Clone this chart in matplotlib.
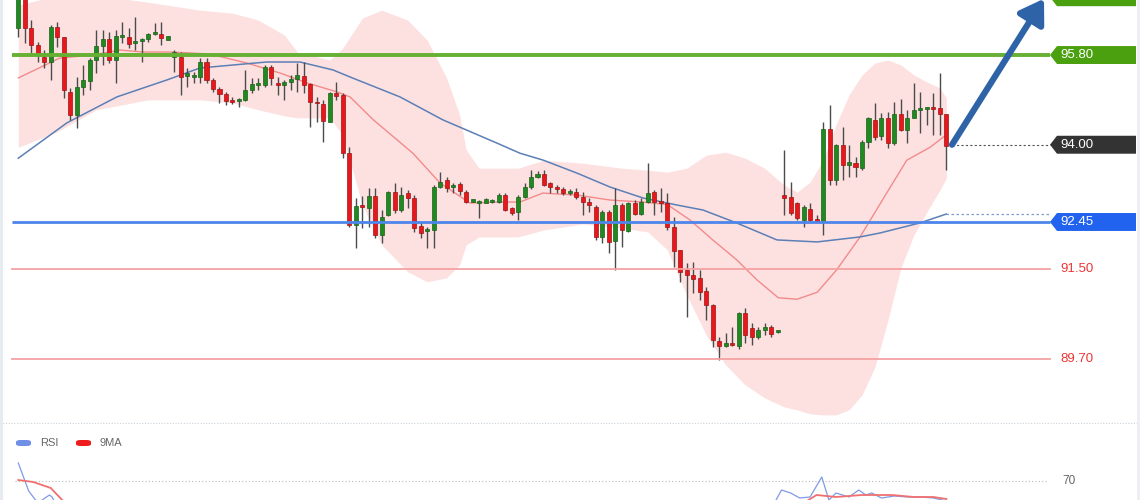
import matplotlib
matplotlib.use("Agg")
import matplotlib.pyplot as plt
from matplotlib.patches import Polygon, FancyBboxPatch
from matplotlib.lines import Line2D
import numpy as np

# candles (one per slot, oldest first)
opens = [96.34, 96.95, 96.34, 96.00, 95.76, 95.66, 96.36, 96.16, 95.05, 94.59,
         95.15, 95.28, 95.70, 95.98, 96.12, 95.70, 96.16, 96.16, 96.04, 96.08,
         96.12, 96.22, 96.22, 96.10, 95.76, 95.76, 95.38, 95.36, 95.36, 95.66,
         95.30, 95.12, 95.02, 94.90, 94.88, 94.90, 95.10, 95.20, 95.20, 95.56,
         95.24, 95.20, 95.26, 95.32, 95.38, 95.22, 94.86, 94.82, 94.45, 95.04,
         94.99, 93.83, 92.39, 92.80, 92.73, 92.97, 92.19, 92.59, 93.05, 92.69,
         93.03, 92.93, 92.37, 92.26, 92.29, 93.15, 93.29, 93.15, 93.21, 93.05,
         92.85, 92.83, 92.83, 92.85, 92.85, 92.99, 92.73, 92.65, 92.95, 93.15,
         93.35, 93.41, 93.23, 93.15, 93.11, 93.03, 93.05, 92.95, 92.85, 92.75,
         92.15, 92.65, 92.07, 92.79, 92.27, 92.83, 92.61, 92.85, 93.05, 92.85,
         92.83, 92.35, 91.88, 91.48, 91.38, 91.32, 91.06, 90.78, 90.06, 89.96,
         90.02, 89.96, 90.62, 90.32, 90.14, 90.28, 90.34, 90.24, 92.99, 92.95,
         92.83, 92.49, 92.71, 92.49, 92.45, 94.31, 93.29, 93.99, 93.59, 93.63,
         93.53, 94.05, 94.49, 94.17, 94.53, 94.03, 94.61, 94.29, 94.53, 94.70,
         94.72, 94.74, 94.74, 94.61]
highs = [97.00, 97.00, 96.50, 96.06, 95.90, 96.40, 96.46, 96.16, 95.13, 95.36,
         95.60, 95.74, 96.30, 96.30, 96.26, 96.30, 96.46, 96.34, 96.56, 96.14,
         96.24, 96.44, 96.46, 96.18, 95.90, 95.86, 95.54, 95.46, 95.74, 95.74,
         95.34, 95.16, 95.05, 94.95, 94.94, 95.50, 95.34, 95.34, 95.60, 95.60,
         95.36, 95.30, 95.40, 95.64, 95.66, 95.24, 94.95, 94.90, 95.06, 95.26,
         95.03, 93.95, 92.93, 92.97, 93.13, 93.13, 92.69, 93.07, 93.23, 93.15,
         93.09, 92.99, 92.45, 92.35, 93.19, 93.45, 93.35, 93.23, 93.25, 93.09,
         92.91, 92.89, 92.93, 92.91, 93.03, 93.03, 92.75, 92.99, 93.23, 93.49,
         93.47, 93.49, 93.25, 93.19, 93.15, 93.11, 93.13, 93.05, 92.93, 92.79,
         92.69, 92.69, 93.13, 92.83, 92.85, 92.89, 92.93, 93.63, 93.09, 93.13,
         93.03, 92.55, 91.88, 91.62, 91.64, 91.48, 91.14, 90.80, 90.14, 90.22,
         90.34, 90.64, 90.72, 90.42, 90.34, 90.42, 90.38, 90.28, 93.89, 93.25,
         92.85, 92.79, 92.83, 92.59, 94.45, 94.79, 94.01, 94.35, 93.99, 93.75,
         94.09, 94.55, 94.83, 94.63, 94.65, 94.85, 94.91, 94.69, 95.24, 95.06,
         94.76, 95.04, 95.44, 94.61]
lows = [96.16, 96.04, 95.84, 95.66, 95.54, 95.30, 95.96, 94.93, 94.49, 94.33,
        94.99, 95.10, 95.44, 95.60, 95.64, 95.24, 96.04, 95.94, 95.90, 95.66,
        96.06, 96.20, 96.00, 96.10, 95.46, 94.99, 95.15, 95.24, 95.24, 95.24,
        95.05, 94.84, 94.79, 94.81, 94.75, 94.88, 95.03, 95.10, 95.16, 95.20,
        95.00, 94.90, 95.10, 95.05, 95.03, 94.35, 94.45, 94.05, 94.45, 94.90,
        93.73, 92.35, 91.92, 92.33, 92.35, 92.13, 92.03, 92.57, 92.63, 92.65,
        92.73, 92.25, 92.13, 91.92, 91.92, 93.13, 93.05, 93.03, 92.99, 92.83,
        92.85, 92.53, 92.83, 92.83, 92.83, 92.67, 92.59, 92.49, 92.93, 93.11,
        93.33, 93.17, 93.03, 93.03, 92.99, 92.99, 92.91, 92.59, 92.65, 92.09,
        92.03, 91.83, 91.48, 91.94, 92.25, 92.59, 92.59, 92.83, 92.59, 92.65,
        92.29, 91.55, 91.24, 90.54, 91.02, 90.88, 90.48, 89.94, 89.68, 89.94,
        89.96, 89.90, 90.02, 89.98, 90.10, 90.18, 90.14, 90.22, 92.59, 92.59,
        92.49, 92.35, 92.47, 92.45, 92.19, 93.19, 93.19, 93.29, 93.35, 93.35,
        93.49, 93.93, 94.09, 94.09, 93.93, 93.99, 94.27, 94.03, 94.53, 94.23,
        94.39, 94.19, 94.19, 93.49]
closes = [96.95, 96.34, 96.00, 95.80, 95.66, 96.36, 96.16, 95.10, 94.59, 95.15,
          95.30, 95.70, 95.98, 96.12, 95.70, 96.18, 96.20, 96.02, 96.08, 96.10,
          96.22, 96.24, 96.14, 96.18, 95.86, 95.36, 95.44, 95.40, 95.66, 95.30,
          95.12, 95.02, 94.88, 94.86, 94.92, 95.10, 95.22, 95.24, 95.56, 95.34,
          95.20, 95.26, 95.32, 95.40, 95.20, 94.86, 94.83, 94.48, 95.04, 94.98,
          93.83, 92.39, 92.77, 92.76, 92.97, 92.19, 92.55, 93.05, 92.69, 92.99,
          92.93, 92.33, 92.23, 92.30, 93.15, 93.25, 93.13, 93.19, 93.07, 92.85,
          92.91, 92.85, 92.91, 92.89, 92.99, 92.69, 92.63, 92.95, 93.15, 93.35,
          93.41, 93.19, 93.15, 93.11, 93.03, 93.05, 92.95, 92.85, 92.79, 92.15,
          92.65, 92.05, 92.79, 92.29, 92.83, 92.61, 92.85, 93.03, 92.85, 92.83,
          92.35, 91.86, 91.44, 91.38, 91.30, 91.04, 90.78, 90.08, 89.96, 90.02,
          89.98, 90.62, 90.18, 90.14, 90.28, 90.34, 90.20, 90.26, 92.93, 92.63,
          92.53, 92.75, 92.49, 92.47, 94.31, 93.29, 93.99, 93.59, 93.65, 93.55,
          94.05, 94.53, 94.15, 94.53, 94.03, 94.61, 94.29, 94.53, 94.69, 94.74,
          94.76, 94.72, 94.61, 93.97]

# bollinger band edges
band_idx = [0, 6, 12, 20, 28, 33, 37, 41, 43, 48, 50, 53, 56, 60, 63, 66, 68, 69, 71, 77,
            81, 87, 93, 97, 100, 103, 106, 109, 112, 115, 118, 120, 122, 124, 126, 128,
            130, 132, 134, 136, 138, 140, 142, 143]
band_upper = [96.80, 97.00, 97.00, 96.86, 96.70, 96.64, 96.50, 96.20, 95.86, 95.70,
              95.94, 96.54, 96.70, 96.50, 96.10, 95.34, 94.60, 93.90, 93.53, 93.53,
              93.69, 93.63, 93.53, 93.49, 93.45, 93.53, 93.79, 93.85, 93.73, 93.53,
              93.19, 93.05, 93.25, 93.69, 94.40, 95.00, 95.40, 95.64, 95.70, 95.60,
              95.40, 95.26, 95.14, 94.94]
band_lower = [93.95, 94.26, 94.70, 94.90, 94.90, 94.84, 94.70, 94.58, 94.54, 94.54,
              94.19, 92.79, 91.99, 91.45, 91.25, 91.33, 91.59, 91.99, 92.15, 92.15,
              92.29, 92.41, 92.33, 92.25, 91.89, 90.98, 90.18, 89.58, 89.18, 88.92,
              88.74, 88.68, 88.60, 88.58, 88.58, 88.68, 88.98, 89.54, 90.48, 91.53,
              92.19, 92.65, 93.09, 93.33]

# middle band (red) and slow average (blue)
mid_idx = [0, 6.4, 11.5, 15.7, 19.2, 23.8, 29.5, 35.2, 40.3, 44.5, 49.1, 51.1, 54.7,
           60.8, 65, 69.6, 73.8, 77.3, 80.8, 86.1, 91.2, 96.3, 100, 103.5, 107, 110.7,
           113.8, 117.1, 120, 123.1, 126.1, 129.7, 133.8, 136.9, 140.5, 143]
mid_val = [95.34, 95.74, 95.80, 95.90, 95.86, 95.86, 95.82, 95.64, 95.44, 95.24, 95.06,
           94.96, 94.50, 93.83, 93.23, 92.83, 92.85, 92.85, 93.03, 92.99, 92.89, 92.85,
           92.80, 92.49, 92.09, 91.69, 91.29, 90.93, 90.90, 91.04, 91.49, 92.15, 93.03,
           93.69, 93.95, 94.20]
slow_idx = [0, 7.5, 15.2, 22.9, 28, 33.1, 38.3, 43.4, 48.5, 51.1, 58.8, 65.4, 73.8, 77.3,
            80.9, 86.1, 91.2, 96.3, 101.5, 105.5, 110.7, 116.9, 123.1, 129.7, 132.8,
            138.9, 143]
slow_val = [93.73, 94.44, 94.96, 95.30, 95.54, 95.60, 95.66, 95.66, 95.50, 95.36, 94.96,
            94.50, 94.03, 93.83, 93.69, 93.43, 93.15, 92.93, 92.79, 92.69, 92.43, 92.09,
            92.05, 92.15, 92.23, 92.43, 92.61]

# RSI panel (only the top of it is visible)
rsi_idx = [0, 1.6, 3.0, 4.8, 5.2, 6.0, None, 116.5, 117.6, 119, 120.4, 122, 123.8, 124.9,
           126, 128, 129.5, 130.6, 131.5, 133, 135, 137, 139, 141, 143]
rsi_val = [79, 65, 59, 63, 62, 57, None, 59, 65.5, 64, 61.5, 62, 72, 60.5,
           64, 62, 65.5, 63, 64, 61.5, 62.5, 62, 62, 61.5, 60]
rsi_ma_idx = [0, 2.3, 5.0, 7.2, None, 121, 123, 126, 130, 134.6, 138, 141, 143]
rsi_ma_val = [70.5, 69.5, 66.5, 59, None, 59, 63, 62, 63, 63, 62, 62, 61]

# horizontal levels
green_level = 95.80
last_price = 94.00
blue_level = 92.45
red_levels = [91.50, 89.70]
target_level = 96.96

W, H = 1140, 500
X0, STEP = 18.3, 6.49


def px(x):
    # figure pixel column -> candle slot
    return (x - X0) / STEP


plt.rcParams['font.family'] = ['Liberation Sans', 'DejaVu Sans']
fig = plt.figure(figsize=(W / 100, H / 100), dpi=100)
fig.patch.set_facecolor('white')

ax = fig.add_axes([0, 80 / H, 1, 420 / H])
ax.set_xlim(px(0), px(W))
ax.set_ylim(88.477, 96.904)
ax.axis('off')

ax.fill_between(band_idx, band_lower, band_upper, color='#fde1e1', lw=0, zorder=1)
ax.plot(mid_idx, mid_val, color='#f38a8a', lw=1.0, zorder=2)
ax.plot(slow_idx, slow_val, color='#5b7fb6', lw=1.1, zorder=2)

o = np.array(opens)
c = np.array(closes)
idx = np.arange(len(o))
up = c >= o
ax.vlines(idx, lows, highs, color='#4b4b4b', lw=1.0, zorder=3)
ax.bar(idx, np.maximum(np.abs(c - o), 0.035), bottom=np.minimum(o, c), width=0.62,
       color=np.where(up, '#1f8a1f', '#e8171b'),
       edgecolor=np.where(up, '#1a5e1a', '#9c1414'), lw=0.5, zorder=4)

xl, xr = px(12), px(1050)
ax.plot([xl, xr], [green_level] * 2, color='#66b033', lw=2.8, zorder=5,
        solid_capstyle='butt')
ax.plot([xl, xr], [blue_level] * 2, color='#4d85ea', lw=2.0, zorder=5,
        solid_capstyle='butt')
for lv in red_levels:
    ax.plot([xl, xr], [lv, lv], color='#f4a2a2', lw=1.3, zorder=5)

ax.plot([px(952), xr], [last_price] * 2, color='#555555', lw=0.8, ls=(0, (2, 2)), zorder=5)
ax.plot([px(946), xr], [slow_val[-1]] * 2, color='#7f9cd2', lw=0.9, ls=(0, (2, 2)), zorder=5)

hh = 0.18


def tag(level, color, text):
    verts = [(px(1050), level), (px(1057), level + hh), (px(1136), level + hh),
             (px(1136), level - hh), (px(1057), level - hh)]
    ax.add_patch(Polygon(verts, closed=True, facecolor=color, edgecolor='none',
                         zorder=6, clip_on=False))
    if text:
        ax.text(px(1060), level, text, color='white', fontsize=9.5, va='center',
                ha='left', zorder=7)


tag(target_level, '#4aa00f', '')
tag(green_level, '#4aa00f', '95.80')
tag(last_price, '#333333', '94.00')
tag(blue_level, '#2163ee', '92.45')
for lv in red_levels:
    ax.text(px(1060), lv, f'{lv:.2f}', color='#ee3535', fontsize=9.5, va='center',
            ha='left', zorder=7)

ax.annotate('', xy=(px(1044), 96.93), xytext=(px(952), last_price),
            annotation_clip=False,
            arrowprops=dict(arrowstyle='-|>,head_length=0.7,head_width=0.45',
                            color='#2e64a7', lw=4.5, mutation_scale=20,
                            shrinkA=0, shrinkB=0), zorder=6)

# RSI panel
ax2 = fig.add_axes([0, 0, 1, 80 / H])
ax2.set_xlim(px(0), px(W))
ax2.set_ylim(60.5, 100.5)
ax2.axis('off')
ax2.plot([px(15), px(1047)], [70, 70], color='#bbbbbb', lw=0.8, ls=(0, (1, 2)))
ax2.text(px(1062), 70, '70', color='#666666', fontsize=8.5, va='center', ha='left')
ri = np.array([np.nan if v is None else v for v in rsi_idx], dtype=float)
rv = np.array([np.nan if v is None else v for v in rsi_val], dtype=float)
mi = np.array([np.nan if v is None else v for v in rsi_ma_idx], dtype=float)
mv = np.array([np.nan if v is None else v for v in rsi_ma_val], dtype=float)
ax2.plot(ri, rv, color='#7f9be4', lw=0.9)
ax2.plot(mi, mv, color='#f07070', lw=1.3)

# legend of the RSI panel
for x, col, lab in [(16, '#6f8fe6', 'RSI'), (76, '#ee1c1c', '9MA')]:
    fig.patches.append(FancyBboxPatch((x / W, 1 - 446 / H), 15 / W, 6 / H,
                                      boxstyle='round,pad=0,rounding_size=0.004',
                                      transform=fig.transFigure, facecolor=col,
                                      edgecolor='none'))
    fig.text((x + 24) / W, 1 - 443 / H, lab, color='#666666', fontsize=8,
             va='center', ha='left')

# panel frame bits
fig.add_artist(Line2D([0, 1], [1 - 423 / H] * 2, transform=fig.transFigure,
                      color='#c9d3dc', lw=0.8, ls=(0, (1, 1.5))))
fig.add_artist(Line2D([1 / W] * 2, [0, 1], transform=fig.transFigure,
                      color='#e3eaf0', lw=2))
fig.add_artist(Line2D([1 - 2 / W] * 2, [0, 1], transform=fig.transFigure,
                      color='#eceff2', lw=2))

fig.savefig('out.png', dpi=100)
